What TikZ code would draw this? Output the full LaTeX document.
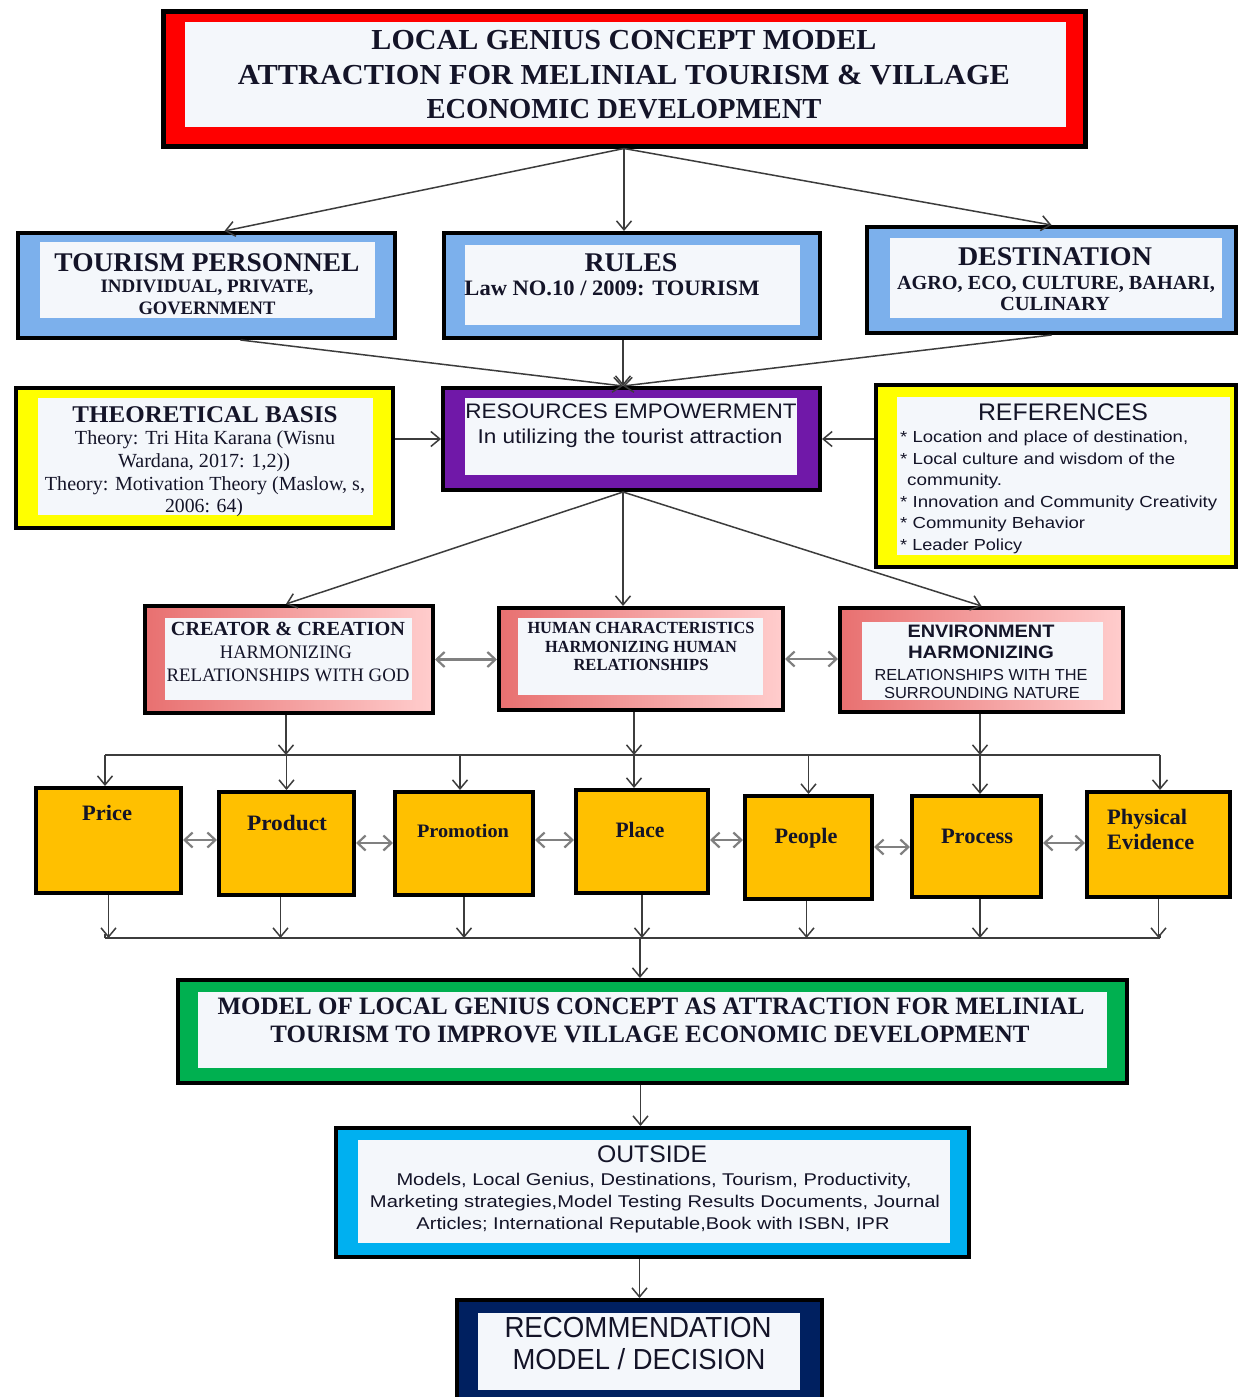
\documentclass[tikz,border=0pt]{standalone}
\usepackage{fontspec}
\setmainfont{Liberation Serif}
\setsansfont{Liberation Sans}
\usepackage{graphicx}
\usetikzlibrary{arrows.meta}
\definecolor{cRed}{RGB}{255,0,0}
\definecolor{cBlue}{RGB}{124,176,236}
\definecolor{cYel}{RGB}{255,255,0}
\definecolor{cPur}{RGB}{112,24,168}
\definecolor{cPinkL}{RGB}{232,112,112}
\definecolor{cPinkR}{RGB}{255,205,205}
\definecolor{cOra}{RGB}{255,192,0}
\definecolor{cGrn}{RGB}{0,176,80}
\definecolor{cCya}{RGB}{0,176,240}
\definecolor{cNavy}{RGB}{0,32,96}
\definecolor{cIn}{RGB}{244,247,251}
\definecolor{cLine}{RGB}{60,60,60}
\definecolor{cTxt}{RGB}{20,20,40}
\newcommand\fw[2]{\resizebox{#1pt}{\height}{#2}}
\newcommand\mkbox[6]{\node[obox,#6,minimum width={#4-#2},minimum height={#5-#3}] (#1) at ({(#2+#4)/2},{(#3+#5)/2}) {};}
\newcommand\inbox[4]{\fill[cIn] (#1,#2) rectangle (#3,#4);}
% name, x, ycenter, size, style, width, text
\newcommand\tl[7]{\node[font=\fontsize{#4}{#4}\selectfont#5,anchor=base,inner sep=0,text=cTxt] (#1) at (#2,{#3+0.34*#4}) {\fw{#6}{#7}};}
\newcommand\tll[7]{\node[font=\fontsize{#4}{#4}\selectfont#5,anchor=base west,inner sep=0,text=cTxt] (#1) at (#2,{#3+0.34*#4}) {\fw{#6}{#7}};}
\tikzset{
  obox/.style={draw=black,line width=4pt,rectangle,inner sep=0pt},
  arr/.style={draw=cLine,line width=1.5pt,-{Straight Barb[length=9pt,width=15pt]}},
  darr/.style={draw=gray,line width=2.2pt,{Straight Barb[length=8pt,width=15pt]}-{Straight Barb[length=8pt,width=15pt]}},
  ln/.style={draw=cLine,line width=1.6pt},
}
\begin{document}
\begin{tikzpicture}[x=1pt,y=-1pt]
\useasboundingbox (0,0) rectangle (1238,1397);
\fill[white] (0,0) rectangle (1238,1397);
% ---------- boxes
\mkbox{title}{163}{12}{1085}{146}{fill=cRed,line width=5pt}
\inbox{185}{22}{1066}{127}
\mkbox{tp}{18}{233}{395}{338}{fill=cBlue}
\inbox{40}{242}{375}{318}
\mkbox{rules}{444}{233}{820}{338}{fill=cBlue}
\inbox{465}{245}{800}{325}
\mkbox{dest}{867}{227}{1236}{333}{fill=cBlue}
\inbox{890}{238}{1222}{318}
\mkbox{tb}{16}{388}{393}{528}{fill=cYel}
\inbox{38}{398}{373}{515}
\mkbox{res}{443}{388}{820}{490}{fill=cPur}
\inbox{465}{398}{797}{475}
\mkbox{ref}{876}{385}{1236}{567}{fill=cYel}
\inbox{897}{397}{1230}{555}
\mkbox{cc}{145}{606}{433}{713}{left color=cPinkL,right color=cPinkR}
\inbox{165}{618}{412}{700}
\mkbox{hc}{499}{608}{783}{710}{left color=cPinkL,right color=cPinkR}
\inbox{518}{618}{763}{695}
\mkbox{env}{840}{608}{1123}{712}{left color=cPinkL,right color=cPinkR}
\inbox{862}{622}{1103}{700}
\mkbox{price}{36}{788}{181}{893}{fill=cOra}
\mkbox{prod}{219}{792}{354}{895}{fill=cOra}
\mkbox{promo}{395}{792}{533}{895}{fill=cOra}
\mkbox{place}{576}{790}{708}{893}{fill=cOra}
\mkbox{people}{745}{796}{872}{899}{fill=cOra}
\mkbox{proc}{912}{796}{1041}{897}{fill=cOra}
\mkbox{phys}{1087}{792}{1230}{897}{fill=cOra}
\mkbox{green}{178}{980}{1127}{1083}{fill=cGrn}
\inbox{198}{992}{1107}{1068}
\mkbox{out}{336}{1128}{969}{1257}{fill=cCya}
\inbox{358}{1140}{950}{1243}
\mkbox{rec}{457}{1300}{822}{1402}{fill=cNavy}
\inbox{478}{1313}{800}{1390}
% ---------- texts
\tl{t1a}{624}{40}{29}{\bfseries}{505}{LOCAL GENIUS CONCEPT MODEL}
\tl{t1b}{624}{75}{29}{\bfseries}{772}{ATTRACTION FOR MELINIAL TOURISM \& VILLAGE}
\tl{t1c}{624}{109}{29}{\bfseries}{395}{ECONOMIC DEVELOPMENT}
\tl{tpa}{207}{262}{27}{\bfseries}{305}{TOURISM PERSONNEL}
\tl{tpb}{207}{286}{19}{\bfseries}{213}{INDIVIDUAL, PRIVATE,}
\tl{tpc}{207}{308}{19}{\bfseries}{137}{GOVERNMENT}
\tl{rua}{631}{262}{27}{\bfseries}{93}{RULES}
\tl{rub}{612}{288}{22}{\bfseries}{295}{Law NO.10 / 2009: TOURISM}
\tl{dea}{1055}{256}{27}{\bfseries}{194}{DESTINATION}
\tl{deb}{1056}{283}{20}{\bfseries}{318}{AGRO, ECO, CULTURE, BAHARI,}
\tl{dec}{1055}{304}{20}{\bfseries}{110}{CULINARY}
\tl{tba}{205}{414}{24}{\bfseries}{265}{THEORETICAL BASIS}
\tl{tbb}{205}{438}{20}{}{260}{Theory: Tri Hita Karana (Wisnu}
\tl{tbc}{204}{461}{20}{}{172}{Wardana, 2017: 1,2))}
\tl{tbd}{205}{484}{20}{}{320}{Theory: Motivation Theory (Maslow, s,}
\tl{tbe}{204}{506}{20}{}{78}{2006: 64)}
\tl{rea}{631}{411}{21}{\sffamily}{331}{RESOURCES EMPOWERMENT}
\tl{reb}{630}{437}{20}{\sffamily}{305}{In utilizing the tourist attraction}
\tl{rfa}{1063}{412}{24}{\sffamily}{170}{REFERENCES}
\tll{rfb}{900}{437}{16}{\sffamily}{288}{* Location and place of destination,}
\tll{rfc}{900}{459}{16}{\sffamily}{275}{* Local culture and wisdom of the}
\tll{rfd}{907}{480}{16}{\sffamily}{95}{community.}
\tll{rfe}{900}{502}{16}{\sffamily}{317}{* Innovation and Community Creativity}
\tll{rff}{900}{523}{16}{\sffamily}{185}{* Community Behavior}
\tll{rfg}{900}{545}{16}{\sffamily}{122}{* Leader Policy}
\tl{cca}{288}{629}{20}{\bfseries}{234}{CREATOR \& CREATION}
\tl{ccb}{286}{652}{19}{}{132}{HARMONIZING}
\tl{ccc}{288}{675}{19}{}{243}{RELATIONSHIPS WITH GOD}
\tl{hca}{641}{628}{17}{\bfseries}{227}{HUMAN CHARACTERISTICS}
\tl{hcb}{641}{647}{17}{\bfseries}{192}{HARMONIZING HUMAN}
\tl{hcc}{641}{665}{17}{\bfseries}{135}{RELATIONSHIPS}
\tl{ena}{981}{631}{18}{\sffamily\bfseries}{147}{ENVIRONMENT}
\tl{enb}{981}{652}{18}{\sffamily\bfseries}{146}{HARMONIZING}
\tl{enc}{981}{675}{16}{\sffamily}{213}{RELATIONSHIPS WITH THE}
\tl{enz}{982}{693}{16}{\sffamily}{196}{SURROUNDING NATURE}
\tl{opa}{107}{813}{22}{\bfseries}{50}{Price}
\tl{opb}{287}{823}{22}{\bfseries}{80}{Product}
\tl{opc}{463}{831}{19}{\bfseries}{92}{Promotion}
\tl{opd}{640}{830}{22}{\bfseries}{49}{Place}
\tl{ope}{806}{836}{22}{\bfseries}{63}{People}
\tl{opf}{977}{836}{22}{\bfseries}{72}{Process}
\tll{opg}{1107}{817}{22}{\bfseries}{80}{Physical}
\tll{oph}{1107}{842}{22}{\bfseries}{87}{Evidence}
\tl{gra}{651}{1006}{25}{\bfseries}{867}{MODEL OF LOCAL GENIUS CONCEPT AS ATTRACTION FOR MELINIAL}
\tl{grb}{650}{1034}{25}{\bfseries}{759}{TOURISM TO IMPROVE VILLAGE ECONOMIC DEVELOPMENT}
\tl{oua}{652}{1154}{24}{\sffamily}{110}{OUTSIDE}
\tl{oub}{654}{1180}{17}{\sffamily}{515}{Models, Local Genius, Destinations, Tourism, Productivity,}
\tl{ouc}{655}{1202}{17}{\sffamily}{570}{Marketing strategies,Model Testing Results Documents, Journal}
\tl{oud}{653}{1224}{17}{\sffamily}{473}{Articles; International Reputable,Book with ISBN, IPR}
\tl{rca}{638}{1328}{29}{\sffamily}{267}{RECOMMENDATION}
\tl{rcb}{639}{1360}{29}{\sffamily}{253}{MODEL / DECISION}
% ---------- connectors
\draw[arr] (title.south) -- ([xshift=18pt]tp.north);
\draw[arr] (title.south) -- (title.south |- rules.north);
\draw[arr] (title.south) -- (dest.north);
\coordinate (resin) at ([xshift=-8.5pt]res.north);
\draw[arr] ([xshift=34pt]tp.south) -- (resin);
\draw[arr] (rules.south -| resin) -- (resin);
\draw[arr] (dest.south) -- (resin);
\draw[arr] (tb.east |- res.west) -- (res.west);
\draw[arr] (ref.west |- res.east) -- (res.east);
\coordinate (resout) at ([xshift=-8.5pt]res.south);
\draw[arr] (resout) -- ([xshift=-3pt]cc.north);
\draw[arr] (resout) -- (resout |- hc.north);
\draw[arr] (resout) -- (env.north);
\draw[darr] (cc.east) -- (cc.east -| hc.west);
\draw[darr] (hc.east) -- (hc.east -| env.west);
% top bus
\coordinate (busL) at (105,755);
\coordinate (busR) at (1160,755);
\draw[ln] (busL) -- (busR);
\draw[arr] ([xshift=-3pt]cc.south) -- ([xshift=-3pt]cc.south |- busL);
\draw[arr] ([xshift=-7pt]hc.south) -- ([xshift=-7pt]hc.south |- busL);
\draw[arr] ([xshift=-1.5pt]env.south) -- ([xshift=-1.5pt]env.south |- busL);
\draw[arr] (busL) -- (busL |- price.north);
\draw[arr] (prod.north |- busL) -- (prod.north);
\draw[arr] ([xshift=-4pt]promo.north |- busL) -- ([xshift=-4pt]promo.north);
\draw[arr] ([xshift=-8pt]place.north |- busL) -- ([xshift=-8pt]place.north);
\draw[arr] (people.north |- busL) -- (people.north);
\draw[arr] ([xshift=3.5pt]proc.north |- busL) -- ([xshift=3.5pt]proc.north);
\draw[arr] (busR) -- (busR |- phys.north);
% horizontal double arrows
\draw[darr] (price.east |- 0,840) -- (prod.west |- 0,840);
\draw[darr] (prod.east |- 0,843) -- (promo.west |- 0,843);
\draw[darr] (promo.east |- 0,840) -- (place.west |- 0,840);
\draw[darr] (place.east |- 0,840) -- (people.west |- 0,840);
\draw[darr] (people.east |- 0,847) -- (proc.west |- 0,847);
\draw[darr] (proc.east |- 0,843) -- (phys.west |- 0,843);
% bottom bus
\coordinate (bbL) at (105,938);
\coordinate (bbR) at (1160,938);
\coordinate (bbM) at (640,938);
\draw[ln] (bbL) -- (bbR);
\draw[arr] (price.south) -- (price.south |- bbL);
\draw[arr] ([xshift=-6pt]prod.south) -- ([xshift=-6pt]prod.south |- bbL);
\draw[arr] (promo.south) -- (promo.south |- bbL);
\draw[arr] (place.south) -- (place.south |- bbL);
\draw[arr] ([xshift=-2pt]people.south) -- ([xshift=-2pt]people.south |- bbL);
\draw[arr] ([xshift=3.5pt]proc.south) -- ([xshift=3.5pt]proc.south |- bbL);
\draw[arr] (phys.south) -- (phys.south |- bbL);
\draw[line width=1.6pt,draw=cLine] (bbL) -- ++(0,-4);
\draw[line width=1.6pt,draw=cLine] (bbR) -- ++(0,-4);
\draw[arr] (bbM) -- (bbM |- green.north);
\draw[arr] ([xshift=-12pt]green.south) -- ([xshift=-12pt]green.south |- out.north);
\draw[arr] (rec.north |- out.south) -- (rec.north);
\end{tikzpicture}
\end{document}
